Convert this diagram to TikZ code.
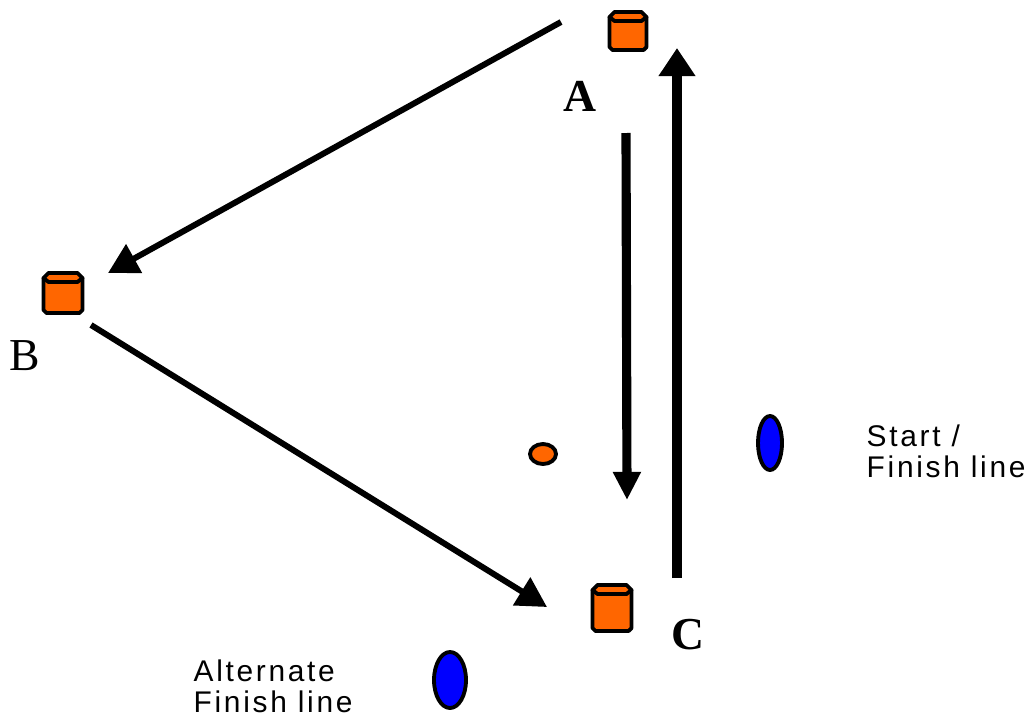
\documentclass[tikz,border=0pt]{standalone}
\usepackage{fontspec}
\setmainfont{Liberation Serif}
\newfontfamily\notefont[LetterSpace=9]{Liberation Sans}
\usetikzlibrary{arrows.meta}
\definecolor{coneorange}{RGB}{255,102,0}
\definecolor{markblue}{RGB}{0,0,255}
\tikzset{
    conestyle/.style = {draw, fill=coneorange, line width=1.1pt, line join=round},
    markstyle/.style = {draw, fill=markblue, line width=1.1pt},
    runarrow/.style = {line width=1.7pt, -{Triangle[length=8.5pt, width=9pt]}},
    bigarrow/.style = {line width=2.6pt, -{Triangle[length=8pt, width=#1]}},
    letter/.style = {font=\fontsize{13}{15}\selectfont},
    note/.style = {font=\notefont\fontsize{8.5}{8.8}\selectfont, align=left, anchor=north west, inner sep=0pt},
    pics/cone/.style n args = {2}{code = {
        \draw [conestyle] (-#1/2, -#2/2+5) -- (-#1/2, #2/2-3) -- (-#1/2+3, #2/2) -- (#1/2-3, #2/2)
            -- (#1/2, #2/2-3) -- (#1/2, -#2/2+5) -- cycle;
        \draw [conestyle] (-#1/2, -#2/2+5) -- (-#1/2+5, -#2/2) -- (#1/2-5, -#2/2) -- (#1/2, -#2/2+5)
            -- (#1/2-5, -#2/2+9) -- (-#1/2+5, -#2/2+9) -- cycle;
    }}
}
\begin{document}
\begin{tikzpicture}[x = 0.01cm, y = -0.01cm]
    \useasboundingbox (0, 0) rectangle (1028, 718);
    % cones and markers
    \pic at (628, 31) {cone={37}{38}};
    \pic at (63, 293) {cone={39}{40}};
    \pic at (612, 608) {cone={39}{46}};
    \draw [conestyle] (543, 454) ellipse [x radius=13, y radius=10];
    \draw [markstyle] (770, 443) ellipse [x radius=12, y radius=27];
    \draw [markstyle] (450, 680) ellipse [x radius=16, y radius=28];
    % arrow ends
    \coordinate (aout) at (561, 22);
    \coordinate (bin) at (108, 273);
    \coordinate (bout) at (91, 325);
    \coordinate (cin) at (547, 607);
    \coordinate (downtop) at (626, 133);
    \coordinate (downend) at (627, 500);
    \coordinate (upstart) at (677, 578);
    \coordinate (upend) at (677, 48);
    \draw [runarrow] (aout) -- (bin);
    \draw [runarrow] (bout) -- (cin);
    \draw [bigarrow=7.5pt] (downtop) -- (downend);
    \draw [bigarrow=10pt] (upstart) -- (upend);
    % labels
    \node [letter] (labA) at (580, 96) {\textbf{A}};
    \node [letter] (labB) at (25, 356) {B};
    \node [letter] (labC) at (688, 635) {\textbf{C}};
    \node [note] (start) at (866, 424) {Start /\\Finish line};
    \node [note] (alt) at (193, 659) {Alternate\\Finish line};
\end{tikzpicture}
\end{document}
